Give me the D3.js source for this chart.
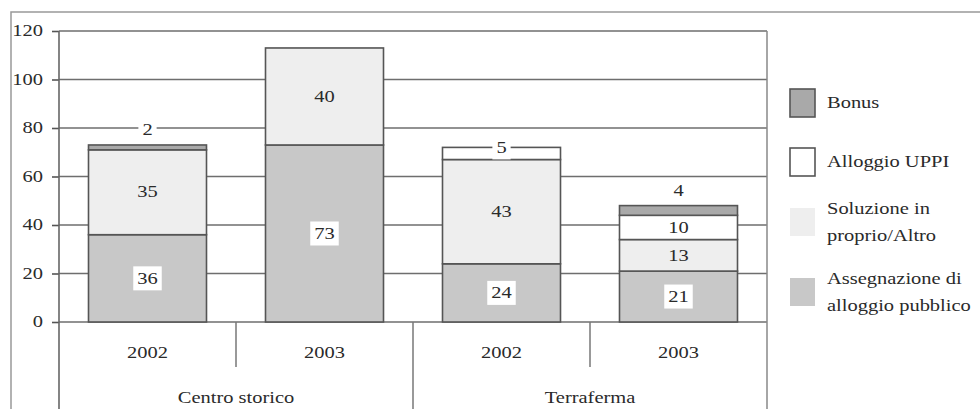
<!DOCTYPE html>
<html>
<head>
<meta charset="utf-8">
<script src="https://cdn.jsdelivr.net/npm/d3@7/dist/d3.min.js"></script>
<style>
  html, body { margin: 0; padding: 0; background: #fff; }
  svg { display: block; }
</style>
</head>
<body>
<svg id="chart" width="980" height="409"></svg>
<script>
// Area groups and years (one bar per group/year pair)
const groups = ["Centro storico", "Terraferma"];
const years = ["2002", "2003", "2002", "2003"];
const barGroup = [0, 0, 1, 1];

// Stacked series, bottom to top
const seriesNames = ["Assegnazione di alloggio pubblico", "Soluzione in proprio/Altro", "Alloggio UPPI", "Bonus"];
const assegnazione = [36, 73, 24, 21];
const soluzione = [35, 40, 43, 13];
const alloggioUPPI = [0, 0, 5, 10];
const bonus = [2, 0, 0, 4];

// Legend entries, top to bottom, with their wrapped lines
const legendLines = [["Bonus"], ["Alloggio UPPI"], ["Soluzione in", "proprio/Altro"], ["Assegnazione di", "alloggio pubblico"]];
const legendSeries = [3, 2, 1, 0];

const yTicks = [0, 20, 40, 60, 80, 100, 120];

const fills = ["#c8c8c8", "#eeeeee", "#ffffff", "#a9a9a9"];
const stroke = "#555";
const SX = 1.28; // horizontal stretch of the serif type
const FONT = '"Liberation Serif"';

const svg = d3.select("#chart");
const W = 980, H = 409;
const plot = { left: 59, right: 767, top: 31, bottom: 322 };

function stretchedText(sel, x, y, str, opts = {}) {
  return sel.append("text")
    .attr("transform", `translate(${x},${y}) scale(${SX},1)`)
    .attr("text-anchor", opts.anchor || "middle")
    .attr("dominant-baseline", "central")
    .style("font-family", FONT)
    .style("font-size", (opts.size || 16) + "px")
    .attr("fill", "#2a2a2a")
    .text(str);
}

// Outer frame
svg.append("path")
  .attr("d", `M11,${H} V12 H${W}`)
  .attr("fill", "none").attr("stroke", "#999").attr("stroke-width", 1.5);

const bars = d3.range(years.length);
const x = d3.scaleBand().domain(bars).range([plot.left, plot.right])
  .paddingInner(1 / 3).paddingOuter(1 / 6);
const y = d3.scaleLinear().domain([0, 120]).range([plot.bottom, plot.top]);

// Gridlines
svg.append("g").selectAll("line").data(yTicks).join("line")
  .attr("x1", plot.left).attr("x2", plot.right)
  .attr("y1", d => y(d)).attr("y2", d => y(d))
  .attr("stroke", "#6e6e6e").attr("stroke-width", 1.6);

// Y axis with ticks and labels
const yAxis = d3.axisLeft(y).tickValues(yTicks).tickSize(7).tickPadding(0).tickFormat("");
const ya = svg.append("g").attr("transform", `translate(${plot.left},0)`).call(yAxis);
ya.select(".domain").remove();
ya.selectAll(".tick line").attr("stroke", "#555").attr("stroke-width", 1.6);
yTicks.forEach(v => stretchedText(svg, 43, y(v), String(v), { anchor: "end", size: 16 }));

// Vertical frame lines of the plot area, running down through the category axis
svg.append("line").attr("x1", plot.left).attr("x2", plot.left)
  .attr("y1", plot.top).attr("y2", H).attr("stroke", "#666").attr("stroke-width", 1.6);
svg.append("line").attr("x1", plot.right).attr("x2", plot.right)
  .attr("y1", plot.top).attr("y2", H).attr("stroke", "#888").attr("stroke-width", 1.5);

// Stack the series
const table = bars.map(i => ({
  i,
  s0: assegnazione[i], s1: soluzione[i], s2: alloggioUPPI[i], s3: bonus[i]
}));
const stack = d3.stack().keys(["s0", "s1", "s2", "s3"]);
const layers = stack(table);

const barG = svg.append("g");
layers.forEach((layer, k) => {
  barG.selectAll(null).data(layer.filter(d => d[1] - d[0] > 0)).join("rect")
    .attr("x", d => x(d.data.i))
    .attr("width", x.bandwidth())
    .attr("y", d => y(d[1]))
    .attr("height", d => y(d[0]) - y(d[1]))
    .attr("fill", fills[k])
    .attr("stroke", stroke).attr("stroke-width", 1.6);
});

// Value labels: centred in tall segments, on the top edge or above the bar in thin ones
const labelG = svg.append("g");
layers.forEach((layer, k) => {
  layer.forEach(d => {
    const v = d[1] - d[0];
    if (v <= 0) return;
    const cx = x(d.data.i) + x.bandwidth() / 2;
    const h = y(d[0]) - y(d[1]);
    const total = d3.sum([assegnazione, soluzione, alloggioUPPI, bonus], s => s[d.data.i]);
    let cy, boxed;
    if (h >= 18) {
      cy = (y(d[0]) + y(d[1])) / 2;
      boxed = k === 0;
    } else if (k === 3) {
      cy = y(total) - 15;
      boxed = true;
    } else {
      cy = y(d[1]);
      boxed = true;
    }
    const str = String(v);
    const tw = str.length * 8 * SX;
    if (boxed) {
      labelG.append("rect")
        .attr("x", cx - tw / 2 - 4).attr("width", tw + 8)
        .attr("y", cy - 12).attr("height", 24)
        .attr("fill", "#fff");
    }
    stretchedText(labelG, cx, cy, str, { size: 16 });
  });
});

// Category axis: year labels and separators
const sepY = 367;
bars.forEach(i => {
  const cx = x(i) + x.bandwidth() / 2;
  stretchedText(svg, cx, 353, years[i], { size: 16 });
});
for (let i = 1; i < bars.length; i++) {
  const sx = (x(i - 1) + x.bandwidth() + x(i)) / 2;
  const sameGroup = barGroup[i] === barGroup[i - 1];
  svg.append("line").attr("x1", sx).attr("x2", sx)
    .attr("y1", plot.bottom).attr("y2", sameGroup ? sepY : H)
    .attr("stroke", "#777").attr("stroke-width", 1.5);
}
groups.forEach((g, gi) => {
  const members = bars.filter(i => barGroup[i] === gi);
  const cx = d3.mean(members, i => x(i) + x.bandwidth() / 2);
  stretchedText(svg, cx, 398, g, { size: 16 });
});

// Legend
const legendTop = [89, 148, 208, 278];
const lg = svg.append("g");
legendSeries.forEach((k, j) => {
  const sy = legendTop[j];
  const bordered = k >= 2;
  lg.append("rect")
    .attr("x", 790).attr("y", sy).attr("width", 25).attr("height", 28)
    .attr("fill", fills[k])
    .attr("stroke", bordered ? stroke : "none").attr("stroke-width", 1.6);
  const lines = legendLines[j];
  const mid = sy + 14;
  lines.forEach((ln, li) => {
    const ly = mid + (li - (lines.length - 1) / 2) * 27;
    stretchedText(lg, 827, ly, ln, { anchor: "start", size: 16 });
  });
});
</script>
</body>
</html>
